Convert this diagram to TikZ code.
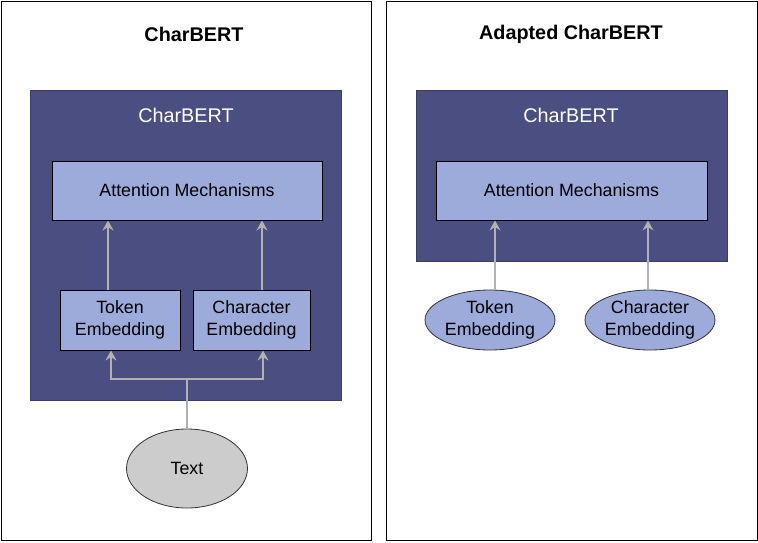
\documentclass[tikz,border=0pt]{standalone}
\usepackage{fontspec}
\setmainfont{Liberation Sans}
\usetikzlibrary{arrows.meta,shapes.geometric,calc}
\definecolor{darkblue}{RGB}{74,78,128}
\definecolor{lightblue}{RGB}{157,171,219}
\definecolor{ellgray}{RGB}{204,204,204}
\definecolor{arrgray}{RGB}{178,178,178}
\tikzset{
  panel/.style={draw=black,line width=1pt,fill=white,rectangle,inner sep=0pt},
  container/.style={draw=darkblue!80!black,line width=0.6pt,fill=darkblue,rectangle,inner sep=0pt},
  titletext/.style={font=\fontsize{19.8}{23}\selectfont\bfseries,inner sep=0pt},
  contlabel/.style={font=\fontsize{19.8}{23}\selectfont,text=white,inner sep=0pt},
  block/.style={draw=black,line width=1pt,fill=lightblue,rectangle,inner sep=0pt,align=center,font=\fontsize{17.8}{21.5}\selectfont},
  oval/.style={draw=black!80,line width=0.8pt,ellipse,inner sep=0pt,align=center,font=\fontsize{17.8}{21.5}\selectfont},
  arr/.style={draw=arrgray,line width=1.8pt,-{Stealth[length=10pt,width=11pt,inset=3.5pt]}},
  plain/.style={draw=arrgray,line width=1.8pt}
}
\begin{document}
\begin{tikzpicture}[x=1pt,y=-1pt]
\useasboundingbox (0,0) rectangle (758,542);
% left panel
\node[panel,minimum width=370pt,minimum height=539pt] (panelL) at (186,270.5) {};
\node[titletext] (titleL) at (194,34.2) {CharBERT};
\node[container,minimum width=311pt,minimum height=310pt] (darkL) at (185.5,245) {};
\node[contlabel] (labelL) at (186,115) {CharBERT};
\node[block,minimum width=270pt,minimum height=59pt] (attL) at (187,190.5) {Attention Mechanisms};
\node[block,minimum width=120pt,minimum height=60pt] (tokL) at (120,320) {Token\\Embedding};
\node[block,minimum width=117pt,minimum height=60pt] (chrL) at (251.5,320) {Character\\Embedding};
\node[oval,fill=ellgray,minimum width=121pt,minimum height=79pt] (textL) at (187,468.5) {Text};
\coordinate (jL) at (187,379);
\draw[arr] ([xshift=-12pt]tokL.north) -- ([xshift=-12pt]tokL.north |- attL.south);
\draw[arr] ([xshift=10.5pt]chrL.north) -- ([xshift=10.5pt]chrL.north |- attL.south);
\draw[plain] (textL.north) -- (jL);
\draw[arr] (jL) -| ([xshift=-9pt]tokL.south);
\draw[arr] (jL) -| ([xshift=11.5pt]chrL.south);
% right panel
\node[panel,minimum width=371pt,minimum height=539pt] (panelR) at (571.5,270.5) {};
\node[titletext] (titleR) at (571,34.2) {Adapted CharBERT};
\node[container,minimum width=311pt,minimum height=171pt] (darkR) at (571.5,175.5) {};
\node[contlabel] (labelR) at (571,115) {CharBERT};
\node[block,minimum width=271pt,minimum height=59pt] (attR) at (571.5,190.5) {Attention Mechanisms};
\node[oval,fill=lightblue,minimum width=130pt,minimum height=60pt] (tokR) at (490,320) {Token\\Embedding};
\node[oval,fill=lightblue,minimum width=130pt,minimum height=60pt] (chrR) at (650,320) {Character\\Embedding};
\draw[arr] ([xshift=5pt]tokR.north) -- ([xshift=5pt]tokR.north |- attR.south);
\draw[arr] ([xshift=-2pt]chrR.north) -- ([xshift=-2pt]chrR.north |- attR.south);
\end{tikzpicture}
\end{document}
